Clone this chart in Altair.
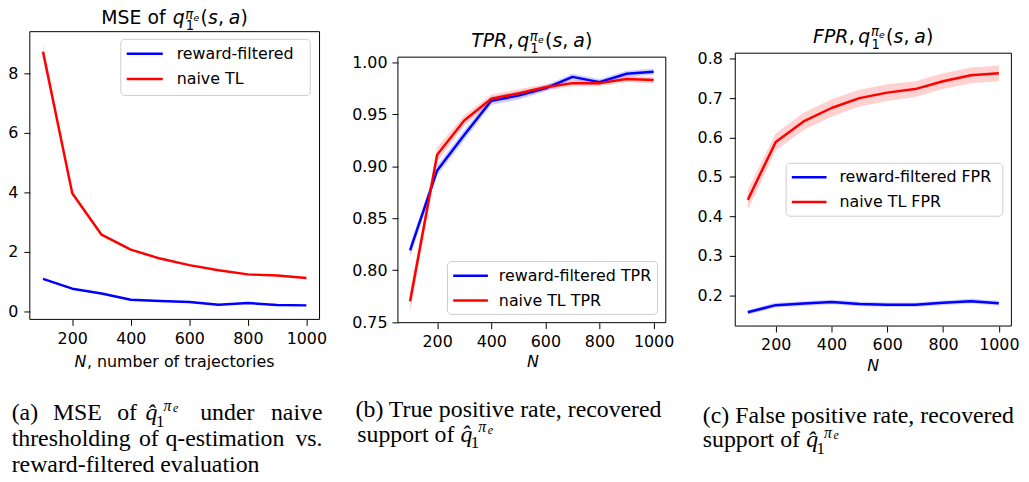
import altair as alt
import pandas as pd

# ---------------- data ----------------
N_VALUES = [100, 200, 300, 400, 500, 600, 700, 800, 900, 1000]

SERIES_MSE = ["reward-filtered", "naive TL"]
SERIES_TPR = ["reward-filtered TPR", "naive TL TPR"]
SERIES_FPR = ["reward-filtered FPR", "naive TL FPR"]

mse_rf = [1.10, 0.77, 0.61, 0.40, 0.36, 0.32, 0.23, 0.29, 0.22, 0.21]
mse_rf_err = [0.04, 0.03, 0.03, 0.02, 0.02, 0.02, 0.02, 0.02, 0.02, 0.02]
mse_naive = [8.72, 3.97, 2.58, 2.08, 1.78, 1.56, 1.39, 1.25, 1.21, 1.13]
mse_naive_err = [0.25, 0.06, 0.04, 0.03, 0.03, 0.02, 0.02, 0.02, 0.02, 0.02]

tpr_rf = [0.819, 0.896, 0.930, 0.963, 0.968, 0.975, 0.986, 0.981, 0.989, 0.991]
tpr_rf_err = [0.006, 0.005, 0.005, 0.004, 0.004, 0.003, 0.003, 0.003, 0.003, 0.003]
tpr_naive = [0.770, 0.911, 0.944, 0.965, 0.970, 0.976, 0.980, 0.980, 0.984, 0.983]
tpr_naive_err = [0.010, 0.007, 0.005, 0.004, 0.004, 0.003, 0.003, 0.003, 0.003, 0.003]

fpr_rf = [0.157, 0.175, 0.179, 0.183, 0.178, 0.176, 0.176, 0.181, 0.185, 0.180]
fpr_rf_err = [0.006, 0.006, 0.006, 0.006, 0.006, 0.006, 0.006, 0.006, 0.006, 0.006]
fpr_naive = [0.442, 0.589, 0.641, 0.675, 0.700, 0.714, 0.723, 0.743, 0.758, 0.763]
fpr_naive_err = [0.025, 0.022, 0.022, 0.022, 0.021, 0.021, 0.020, 0.020, 0.020, 0.020]

X_TICKS = [200, 400, 600, 800, 1000]
MSE_TICKS = [0, 2, 4, 6, 8]
TPR_TICKS = [0.75, 0.80, 0.85, 0.90, 0.95, 1.00]
FPR_TICKS = [0.2, 0.3, 0.4, 0.5, 0.6, 0.7, 0.8]

BLUE = "#0000ff"
RED = "#ff0000"
SANS = "DejaVu Sans"
SERIF = "Liberation Serif"

ONE = pd.DataFrame({"k": [0]})


def long_df(names, vals, errs):
    rows = []
    for name, v_list, e_list in zip(names, vals, errs):
        for n, v, e in zip(N_VALUES, v_list, e_list):
            rows.append({"N": n, "series": name, "value": v, "lo": v - e, "hi": v + e})
    return pd.DataFrame(rows)


def txt(s, x, y, size=16, font=SANS, style="normal", align="left", baseline="alphabetic"):
    return alt.Chart(ONE).mark_text(
        text=s, font=font, fontSize=size, fontStyle=style, align=align,
        baseline=baseline, color="black"
    ).encode(x=alt.value(x), y=alt.value(y))


def box(x0, x1, y0, y1, **kw):
    return alt.Chart(ONE).mark_rect(**kw).encode(
        x=alt.value(x0), x2=alt.value(x1), y=alt.value(y0), y2=alt.value(y1))


def seg(x0, x1, y, color):
    return alt.Chart(ONE).mark_rule(color=color, strokeWidth=2.5).encode(
        x=alt.value(x0), x2=alt.value(x1), y=alt.value(y))


def legend(names, bx0, bx1, by0, by1, ly1, ly2, lx0, lx1, tx):
    return [
        box(bx0, bx1, by0, by1, fill="white", fillOpacity=0.8, stroke="#cccccc",
            strokeWidth=1, cornerRadius=4),
        seg(lx0, lx1, ly1, BLUE),
        seg(lx0, lx1, ly2, RED),
        txt(names[0], tx, ly1, baseline="middle"),
        txt(names[1], tx, ly2, baseline="middle"),
    ]


# title: "<prefix>" then q_1^{pi_e}(s, a) in mathtext style, DejaVu metrics at 19px
def math_title(prefix, prefix_style, prefix_w, comma, center, base, sup=6.5):
    x = center - (prefix_w + (10 if comma else 1) + 76) / 2
    parts = [txt(prefix, x, base, size=19, style=prefix_style)]
    cx = x + prefix_w
    if comma:
        parts.append(txt(",", cx + 0.5, base, size=19))
        cx += 10
    else:
        cx += 1
    q = cx
    parts += [
        txt("q", q, base, size=19, style="italic"),
        txt("π", q + 12.8, base - sup, size=13.3, style="italic"),
        txt("1", q + 13.3, base + 6, size=13.3),
        txt("e", q + 21.0, base - sup + 2, size=9.3, style="italic"),
        txt("(", q + 28.0, base, size=19),
        txt("s", q + 35.6, base, size=19, style="italic"),
        txt(",", q + 45.6, base, size=19),
        txt("a", q + 56.5, base, size=19, style="italic"),
        txt(")", q + 68.3, base, size=19),
    ]
    return parts


def qhat(x, base):
    return [
        txt("q\u0302", x, base, size=24, font=SERIF, style="italic"),
        txt("1", x + 10.5, base + 6.6, size=17, font=SERIF),
        txt("π", x + 18.0, base - 9.5, size=16, font=SERIF, style="italic"),
        txt("e", x + 27.5, base - 8, size=12, font=SERIF, style="italic"),
    ]


def panel(df, names, plot_w, group_w, ydom, yrange, group_h, yticks, yfmt, ypad,
          extra):
    color = alt.Color("series:N", scale=alt.Scale(domain=names, range=[BLUE, RED]),
                      legend=None)
    xscale = alt.Scale(domain=[55, 1045], range=[0, plot_w], nice=False, zero=False)
    yscale = alt.Scale(domain=ydom, range=yrange, nice=False, zero=False)
    xaxis = alt.Axis(values=X_TICKS, format="d", title=None, labelPadding=5)
    yaxis = alt.Axis(values=yticks, format=yfmt, title=None, labelPadding=ypad)
    band = alt.Chart(df).mark_area(opacity=0.18).encode(
        x=alt.X("N:Q", scale=xscale, axis=xaxis),
        y=alt.Y("lo:Q", scale=yscale, axis=yaxis),
        y2="hi:Q",
        color=color,
    )
    line = alt.Chart(df).mark_line(strokeWidth=2.5, strokeJoin="round").encode(
        x=alt.X("N:Q", scale=xscale, axis=xaxis),
        y=alt.Y("value:Q", scale=yscale, axis=yaxis),
        color=color,
    )
    frame = box(0, plot_w, yrange[1], yrange[0], filled=False, stroke="black", strokeWidth=1)
    return alt.layer(band, line, frame, *extra).properties(width=group_w, height=group_h)


df_mse = long_df(SERIES_MSE, [mse_rf, mse_naive], [mse_rf_err, mse_naive_err])
df_tpr = long_df(SERIES_TPR, [tpr_rf, tpr_naive], [tpr_rf_err, tpr_naive_err])
df_fpr = long_df(SERIES_FPR, [fpr_rf, fpr_naive], [fpr_rf_err, fpr_naive_err])

# ---------- panel (a) ----------
extra1 = (
    legend(SERIES_MSE, 91.7, 282.7, 7.7, 64.3, 22.3, 47.7, 97.7, 134, 148)
    + math_title("MSE of ", "normal", 70.9, False, 146, -7.5, sup=5.0)
    + [txt("N", 45, 338, style="italic"),
       txt(", number of trajectories", 57.5, 338)]
    + [txt("(a)", -18.3, 391.7, size=24, font=SERIF),
       txt("MSE", 23.3, 391.7, size=24, font=SERIF),
       txt("of", 88, 391.7, size=24, font=SERIF)]
    + qhat(116.7, 391.7)
    + [txt("under", 171.7, 391.7, size=24, font=SERIF),
       txt("naive", 295, 391.7, size=24, font=SERIF, align="right"),
       txt("thresholding", -18.3, 417.7, size=24, font=SERIF),
       txt("of", 110, 417.7, size=24, font=SERIF),
       txt("q-estimation", 136.7, 417.7, size=24, font=SERIF),
       txt("vs.", 295, 417.7, size=24, font=SERIF, align="right"),
       txt("reward-filtered evaluation", -18.3, 444.0, size=24, font=SERIF)]
)
p1 = panel(df_mse, SERIES_MSE, 292, 301, [-0.26, 9.39], [290, 0], 290,
           MSE_TICKS, "d", 6, extra1)

# ---------- panel (b) ----------
extra2 = (
    legend(SERIES_TPR, 50, 261.7, 231.7, 285, 246, 271, 55.7, 90.7, 101.7)
    + math_title("TPR", "italic", 36.3, True, 135, 15.5)
    + [txt("N", 136, 338, style="italic", align="center")]
    + [txt("(b) True positive rate, recovered", -42.7, 388.3, size=24, font=SERIF),
       txt("support of", -41, 413.3, size=24, font=SERIF)]
    + qhat(63, 413.3)
)
p2 = panel(df_tpr, SERIES_TPR, 270, 270, [0.7494, 1.005], [293.3, 25.7], 293.3,
           TPR_TICKS, ".2f", 5, extra2)

# ---------- panel (c) ----------
extra3 = (
    legend(SERIES_FPR, 51.3, 269.7, 132.7, 186, 146.7, 171.7, 57, 92, 105)
    + math_title("FPR", "italic", 35.6, True, 139.2, 11)
    + [txt("N", 139, 342, style="italic", align="center")]
    + [txt("(c) False positive rate, recovered", -32.7, 394, size=24, font=SERIF),
       txt("support of", -32.7, 419, size=24, font=SERIF)]
    + qhat(71.5, 419)
)
p3 = panel(df_fpr, SERIES_FPR, 278.3, 278.3, [0.122, 0.814], [296.7, 21.7], 296.7,
           FPR_TICKS, ".1f", 7, extra3)

chart = alt.hconcat(p1, p2, p3, spacing=70, bounds="flush").properties(
    autosize=alt.AutoSizeParams(type="none"),
    padding={"left": 22, "top": 22, "right": 999, "bottom": 448},
).configure_view(stroke=None).configure_axis(
    labelFont=SANS, labelFontSize=16, labelColor="black", tickColor="black",
    tickSize=6, tickWidth=1, domain=False, grid=False,
)

chart.save("out.html", embed_options={"renderer": "svg", "actions": False})
